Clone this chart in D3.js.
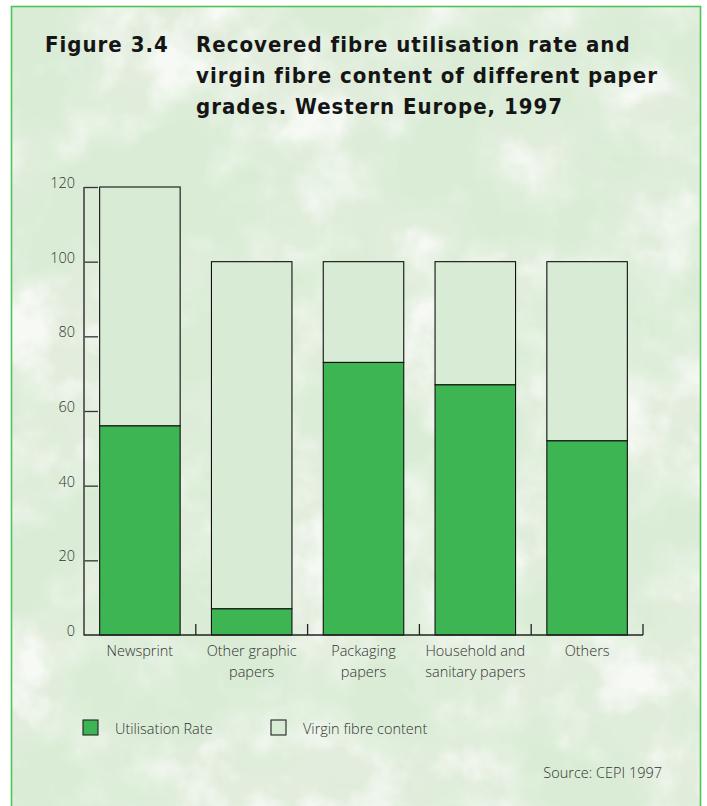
<!DOCTYPE html>
<html>
<head>
<meta charset="utf-8">
<script src="https://cdn.jsdelivr.net/npm/d3@7"></script>
<style>
  html, body { margin: 0; padding: 0; background: #ffffff; }
  svg { display: block; }
  .light { font-family: "Open Sans", "Lato", sans-serif; font-weight: 300; fill: #333; }
  .title { font-family: "DejaVu Sans Condensed", "DejaVu Sans", sans-serif; font-stretch: condensed; font-weight: bold; fill: #151515; letter-spacing: 1px; }
</style>
</head>
<body>
<script>
// Paper grades and their fibre composition (%), Western Europe 1997
const categories = ["Newsprint", "Other graphic papers", "Packaging papers", "Household and sanitary papers", "Others"];
const categoryLines = [["Newsprint"], ["Other graphic", "papers"], ["Packaging", "papers"], ["Household and", "sanitary papers"], ["Others"]];
const utilisationRate = [56, 7, 73, 67, 52];
const virginFibre = [64, 93, 27, 33, 48];
const yTicks = [0, 20, 40, 60, 80, 100, 120];
const seriesNames = ["Utilisation Rate", "Virgin fibre content"];
const seriesColors = ["#3db553", "#d8ebd4"];
const titleLines = ["Recovered fibre utilisation rate and", "virgin fibre content of different paper", "grades. Western Europe, 1997"];
const figureLabel = "Figure 3.4";
const sourceNote = "Source: CEPI 1997";

const W = 707, H = 806;
const svg = d3.select("body").append("svg").attr("width", W).attr("height", H);
const defs = svg.append("defs");

// Mottled leafy backdrop built from fractal noise
const fBlobs = defs.append("filter").attr("id", "blobs")
  .attr("x", 0).attr("y", 0).attr("width", "100%").attr("height", "100%");
fBlobs.append("feTurbulence").attr("type", "fractalNoise")
  .attr("baseFrequency", "0.008").attr("numOctaves", 5).attr("seed", 11).attr("result", "n");
fBlobs.append("feColorMatrix").attr("in", "n").attr("type", "matrix")
  .attr("values", "0 0 0 0 0.70  0 0 0 0 0.84  0 0 0 0 0.67  3.4 0 0 0 -1.25");

const fLight = defs.append("filter").attr("id", "lightpatch")
  .attr("x", 0).attr("y", 0).attr("width", "100%").attr("height", "100%");
fLight.append("feTurbulence").attr("type", "fractalNoise")
  .attr("baseFrequency", "0.02").attr("numOctaves", 4).attr("seed", 3).attr("result", "n");
fLight.append("feColorMatrix").attr("in", "n").attr("type", "matrix")
  .attr("values", "0 0 0 0 0.97  0 0 0 0 0.98  0 0 0 0 0.96  3.0 0 0 0 -1.2");

svg.append("rect").attr("width", W).attr("height", H).attr("fill", "#ffffff");
svg.append("rect").attr("x", 11).attr("y", 6).attr("width", 690).attr("height", H)
  .attr("fill", "#e2eddd");
svg.append("rect").attr("x", 11).attr("y", 6).attr("width", 690).attr("height", H)
  .attr("filter", "url(#lightpatch)").attr("opacity", 0.8);
svg.append("rect").attr("x", 11).attr("y", 6).attr("width", 690).attr("height", H)
  .attr("filter", "url(#blobs)");
svg.append("rect").attr("x", 11.5).attr("y", 6.5).attr("width", 689).attr("height", H + 10)
  .attr("fill", "none").attr("stroke", "#4fc25a").attr("stroke-width", 1.6);

// Title block
svg.append("text").attr("class", "title").attr("x", 45).attr("y", 52)
  .attr("font-size", 22).text(figureLabel);
titleLines.forEach((t, i) => {
  svg.append("text").attr("class", "title").attr("x", 196).attr("y", 52 + i * 31)
    .attr("font-size", 22).text(t);
});

// Scales
const y = d3.scaleLinear().domain([0, 120]).range([635, 187]);
const x = d3.scaleBand().domain(categories).range([84, 643]).paddingInner(0.28).paddingOuter(0.14);

const rows = categories.map((c, i) => ({ c, lines: categoryLines[i], u: utilisationRate[i], v: virginFibre[i] }));

// Y axis: line, inward ticks, labels
const yAxis = d3.axisRight(y).tickValues(yTicks).tickSize(14).tickFormat("");
const gy = svg.append("g").attr("transform", "translate(84,0)").call(yAxis);
gy.select(".domain").remove();
gy.selectAll(".tick line").attr("stroke", "#333").attr("stroke-width", 1.3)
  .filter(d => d === 0).remove();
svg.append("line").attr("x1", 84).attr("x2", 84).attr("y1", y(120)).attr("y2", y(0) + 0.5)
  .attr("stroke", "#555").attr("stroke-width", 1.8);
svg.append("g").selectAll("text").data(yTicks).join("text")
  .attr("class", "light").attr("x", 75).attr("y", d => y(d) + 1)
  .attr("text-anchor", "end").attr("font-size", 14.5).text(d => d);

// Stacked bars
const bars = svg.append("g");
bars.selectAll("rect.virgin").data(rows).join("rect").attr("class", "virgin")
  .attr("x", d => x(d.c)).attr("width", x.bandwidth())
  .attr("y", d => y(d.u + d.v)).attr("height", d => y(d.u) - y(d.u + d.v))
  .attr("fill", seriesColors[1]).attr("stroke", "#111").attr("stroke-width", 1.1);
bars.selectAll("rect.util").data(rows).join("rect").attr("class", "util")
  .attr("x", d => x(d.c)).attr("width", x.bandwidth())
  .attr("y", d => y(d.u)).attr("height", d => y(0) - y(d.u))
  .attr("fill", seriesColors[0]).attr("stroke", "#111").attr("stroke-width", 1.1);

// X axis with upward ticks between categories
svg.append("line").attr("x1", 84).attr("x2", 643).attr("y1", y(0)).attr("y2", y(0))
  .attr("stroke", "#222").attr("stroke-width", 1.5);
const boundaries = categories.map(c => x(c) + x.bandwidth() + x.step() * x.paddingInner() / 2);
svg.append("g").selectAll("line").data(boundaries).join("line")
  .attr("x1", d => d).attr("x2", d => d).attr("y1", y(0)).attr("y2", y(0) - 11)
  .attr("stroke", "#222").attr("stroke-width", 1.3);

// Category labels
const xl = svg.append("g").selectAll("text").data(rows).join("text")
  .attr("class", "light").attr("text-anchor", "middle").attr("font-size", 14.5)
  .attr("transform", d => `translate(${x(d.c) + x.bandwidth() / 2},656)`);
xl.selectAll("tspan").data(d => d.lines).join("tspan")
  .attr("x", 0).attr("y", (d, i) => i * 21).text(d => d);

// Legend
const legend = svg.append("g");
const legendX = [83, 271];
seriesNames.forEach((name, i) => {
  legend.append("rect").attr("x", legendX[i]).attr("y", 720).attr("width", 15).attr("height", 15)
    .attr("fill", seriesColors[i]).attr("stroke", "#222").attr("stroke-width", 1.1);
  legend.append("text").attr("class", "light").attr("x", legendX[i] + 32).attr("y", 734)
    .attr("font-size", 14.5).text(name);
});

// Source note
svg.append("text").attr("class", "light").attr("x", 662).attr("y", 778)
  .attr("text-anchor", "end").attr("font-size", 14.5).text(sourceNote);
</script>
</body>
</html>
